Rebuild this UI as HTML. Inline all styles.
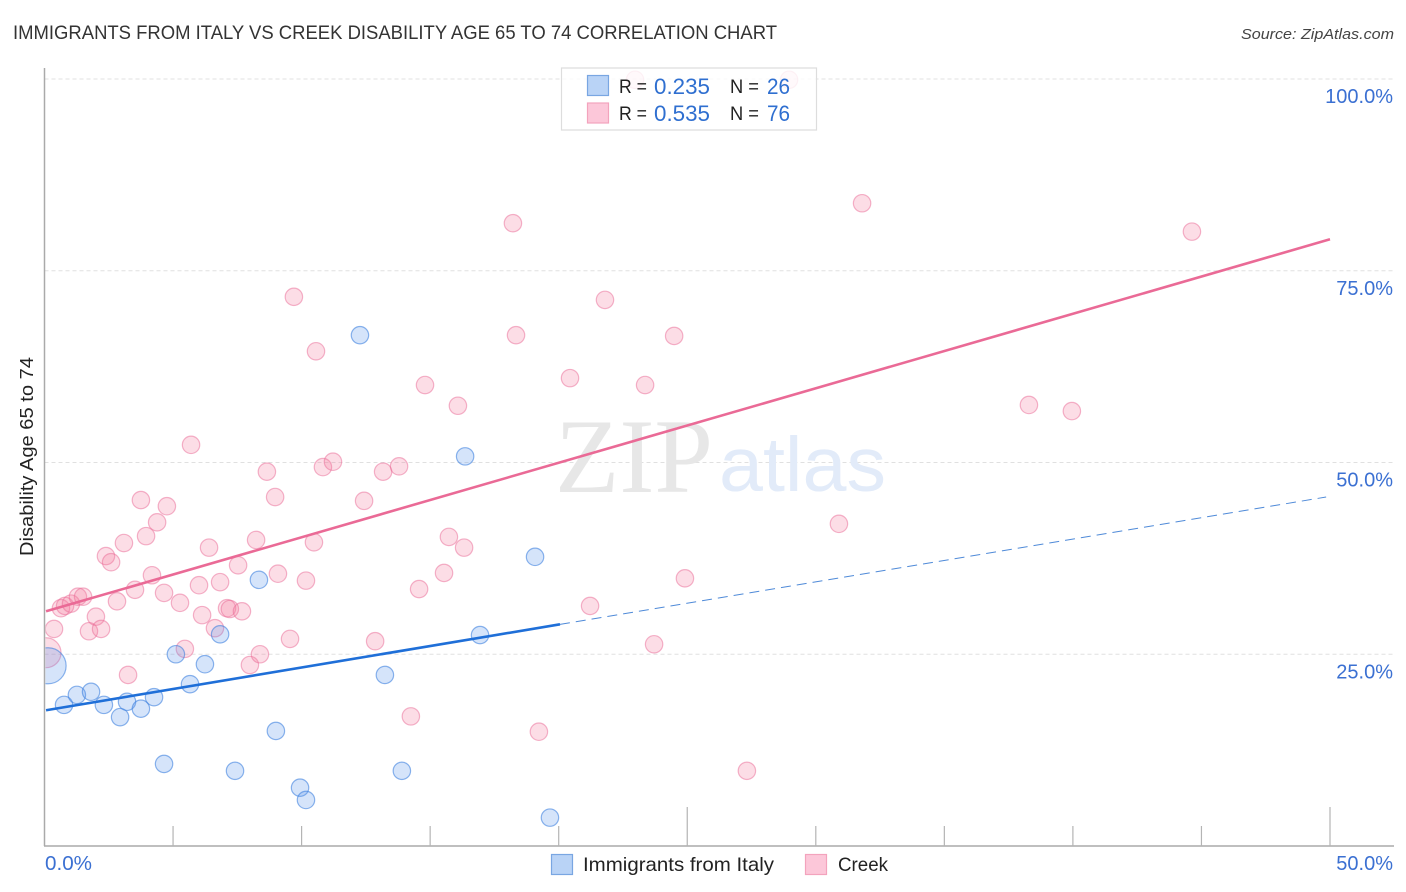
<!DOCTYPE html>
<html lang="en">
<head>
<meta charset="utf-8">
<title>Immigrants from Italy vs Creek Disability Age 65 to 74 Correlation Chart</title>
<style>
html,body{margin:0;padding:0;background:#fff;}
svg{display:block;font-family:"Liberation Sans",sans-serif;}
</style>
</head>
<body>
<svg id="chart" xmlns="http://www.w3.org/2000/svg" width="1406" height="892" viewBox="0 0 1406 892">
  <defs><clipPath id="plot-clip"><rect x="45.5" y="60" width="1350" height="786"></rect></clipPath></defs>
  <rect x="0" y="0" width="1406" height="892" fill="#fff"></rect>
  <text x="13" y="39" font-size="19" fill="#333" textLength="764" lengthAdjust="spacingAndGlyphs">IMMIGRANTS FROM ITALY VS CREEK DISABILITY AGE 65 TO 74 CORRELATION CHART</text>
  <text x="1394" y="39" font-size="15" font-style="italic" fill="#444" text-anchor="end" textLength="153" lengthAdjust="spacingAndGlyphs">Source: ZipAtlas.com</text>
  <g id="grid"></g>
  <g>
    <text x="555" y="492" font-family="'Liberation Serif',serif" font-size="106" fill="#e7e7e7" textLength="158" lengthAdjust="spacingAndGlyphs">ZIP</text>
    <text x="719" y="491" font-size="77" fill="#e2ebf9" textLength="167" lengthAdjust="spacingAndGlyphs">atlas</text>
  </g>
  <g id="points" clip-path="url(#plot-clip)"></g>
  <g id="trends"></g>
  <g id="axes"></g>
  <text transform="translate(33,456.5) rotate(-90)" font-size="18.5" fill="#222" text-anchor="middle" textLength="199" lengthAdjust="spacingAndGlyphs">Disability Age 65 to 74</text>

  <g>
    <rect x="561.5" y="68" width="255" height="62" fill="#fff" fill-opacity="0.82" stroke="#ddd" stroke-width="1.2"></rect>
    <rect x="587.5" y="75.5" width="21" height="20" fill="#b9d3f6" stroke="#79a6e2" stroke-width="1.2"></rect>
    <rect x="587.5" y="103" width="21" height="20" fill="#fcc7d9" stroke="#f3a3bd" stroke-width="1.2"></rect>
    <g font-size="19" fill="#222">
      <text x="619" y="93" textLength="28" lengthAdjust="spacingAndGlyphs">R =</text>
      <text x="654" y="94" font-size="22" fill="#2f6fd0" textLength="56" lengthAdjust="spacingAndGlyphs">0.235</text>
      <text x="730" y="93" textLength="29" lengthAdjust="spacingAndGlyphs">N =</text>
      <text x="767" y="94" font-size="22" fill="#2f6fd0" textLength="23" lengthAdjust="spacingAndGlyphs">26</text>
      <text x="619" y="120" textLength="28" lengthAdjust="spacingAndGlyphs">R =</text>
      <text x="654" y="121" font-size="22" fill="#2f6fd0" textLength="56" lengthAdjust="spacingAndGlyphs">0.535</text>
      <text x="730" y="120" textLength="29" lengthAdjust="spacingAndGlyphs">N =</text>
      <text x="767" y="121" font-size="22" fill="#2f6fd0" textLength="23" lengthAdjust="spacingAndGlyphs">76</text>
    </g>
  </g>

  <g>
    <g>
      <rect x="551.5" y="854.5" width="21" height="20" fill="#b9d3f6" stroke="#79a6e2" stroke-width="1.2"></rect>
      <text x="583" y="871" font-size="19.5" fill="#222" textLength="191" lengthAdjust="spacingAndGlyphs">Immigrants from Italy</text>
    </g>
    <g>
      <rect x="805.5" y="854.5" width="21" height="20" fill="#fcc7d9" stroke="#f3a3bd" stroke-width="1.2"></rect>
      <text x="838" y="871" font-size="19.5" fill="#222" textLength="50" lengthAdjust="spacingAndGlyphs">Creek</text>
    </g>
  </g>
</svg>
<script>
// Chart data, in axis units (percent)
const italyX = [0.14,0.76,1.26,1.81,2.31,2.94,3.21,3.75,4.26,4.65,5.11,5.66,6.24,6.83,7.41,8.34,9.0,9.94,10.17,12.27,13.24,13.9,16.36,16.94,19.08,19.66];
const italyY = [23.5,18.4,19.7,20.1,18.4,16.8,18.8,17.9,19.4,10.7,25.0,21.1,23.7,27.6,9.8,34.7,15.0,7.6,6.0,66.6,22.3,9.8,50.8,27.5,37.7,3.7];
const creekX = [0.06,0.37,0.64,0.80,1.03,1.30,1.50,1.73,2.0,2.2,2.39,2.59,2.82,3.09,3.25,3.52,3.75,3.95,4.18,4.38,4.65,4.76,5.27,5.46,5.70,6.01,6.13,6.40,6.63,6.83,7.10,7.21,7.53,7.68,7.99,8.23,8.38,8.65,8.97,9.08,9.55,9.70,10.17,10.48,10.56,10.83,11.22,12.43,12.86,13.17,13.79,14.25,14.57,14.80,15.54,15.73,16.08,16.32,18.22,18.34,19.23,20.44,21.22,21.80,22.97,23.36,23.71,24.49,24.91,27.32,28.96,30.90,31.80,38.29,39.96,44.63];
const creekY = [25.2,28.3,31.0,31.3,31.6,32.5,32.5,28.0,29.9,28.3,37.8,37.0,31.9,39.5,22.3,33.4,45.1,40.4,35.3,42.2,33.0,44.3,31.7,25.7,52.3,34.0,30.1,38.9,28.4,34.4,31.0,30.9,36.6,30.6,23.6,39.9,25.0,48.8,45.5,35.5,27.0,71.6,34.6,39.6,64.5,49.4,50.1,45.0,26.7,48.8,49.5,16.9,33.5,60.1,35.6,40.3,57.4,38.9,81.2,66.6,14.9,61.0,31.3,71.2,99.9,60.1,26.3,66.5,34.9,9.8,99.9,42.0,83.8,57.5,56.7,80.1];
const italyWeights = [2.07,1,1,1,1,1,1,1,1,1,1,1,1,1,1,1,1,1,1,1,1,1,1,1,1,1];
const creekWeights = [1.72,1,1,1,1,1,1,1,1,1,1,1,1,1,1,1,1,1,1,1,1,1,1,1,1,1,1,1,1,1,1,1,1,1,1,1,1,1,1,1,1,1,1,1,1,1,1,1,1,1,1,1,1,1,1,1,1,1,1,1,1,1,1,1,1,1,1,1,1,1,1,1,1,1,1,1];
const creekTrendX = [0.06,50];
const creekTrendY = [30.6,79.1];
const italyTrendX = [0.06,20.05];
const italyTrendY = [17.7,28.9];
const italyProjectionX = [20.05,49.85];
const italyProjectionY = [28.9,45.5];
const yTicks = [25,50,75,100];
const yTickLabels = ['25.0%','50.0%','75.0%','100.0%'];
const xTicks = [5,10,15,20,25,30,35,40,45,50];
const xMajorTicks = [25,50];
const xEndTickLabels = ['0.0%','50.0%'];

const NS = 'http://www.w3.org/2000/svg';
const BASE_RADIUS = 8.7;
const xScale = v => 44.5 + v * 25.71;
const yScale = v => 846 - v * 7.67;

function mk(tag, attrs, parent, text) {
  const el = document.createElementNS(NS, tag);
  for (const k in attrs) el.setAttribute(k, attrs[k]);
  if (text !== undefined) el.textContent = text;
  parent.appendChild(el);
  return el;
}

const grid = document.getElementById('grid');
yTicks.forEach(function (t) {
  const g = mk('line', {x1: 44.5, x2: 1393, y1: yScale(t), y2: yScale(t), stroke: '#e0e0e0', 'stroke-width': 1, 'stroke-dasharray': '4 3'}, grid);
  
  
});

const axes = document.getElementById('axes');
const yAxis = mk('line', {x1: 44.5, x2: 44.5, y1: 68, y2: 846, stroke: '#aaa', 'stroke-width': 1.5}, axes);


const xAxis = mk('line', {x1: 44, x2: 1394, y1: 846, y2: 846, stroke: '#aaa', 'stroke-width': 1.5}, axes);


xTicks.forEach(function (t) {
  const top = xMajorTicks.includes(t) ? 807 : 826;
  const tick = mk('line', {x1: xScale(t), x2: xScale(t), y1: top, y2: 846, stroke: '#b4b4b4', 'stroke-width': 1.2}, axes);
  
  
});
yTicks.forEach(function (t, i) {
  const label = mk('text', {x: 1393, y: yScale(t) + 24, 'font-size': 20, fill: '#3b70d2', 'text-anchor': 'end'}, axes, yTickLabels[i]);
  
  
});
const xStart = mk('text', {x: 45, y: 870, 'font-size': 20, fill: '#3b70d2', textLength: 47, lengthAdjust: 'spacingAndGlyphs'}, axes, xEndTickLabels[0]);


const xEnd = mk('text', {x: 1393, y: 870, 'font-size': 20, fill: '#3b70d2', 'text-anchor': 'end'}, axes, xEndTickLabels[1]);



const points = document.getElementById('points');
creekX.forEach(function (x, i) {
  const c = mk('circle', {cx: xScale(x), cy: yScale(creekY[i]), r: BASE_RADIUS * creekWeights[i], fill: '#f27a9f', 'fill-opacity': 0.26, stroke: '#ea6a96', 'stroke-opacity': 0.5, 'stroke-width': 1.2}, points);
  
  
});
italyX.forEach(function (x, i) {
  const c = mk('circle', {cx: xScale(x), cy: yScale(italyY[i]), r: BASE_RADIUS * italyWeights[i], fill: '#5b97ea', 'fill-opacity': 0.26, stroke: '#3f82e0', 'stroke-opacity': 0.6, 'stroke-width': 1.2}, points);
  
  
});

const trends = document.getElementById('trends');
const creekLine = mk('line', {x1: xScale(creekTrendX[0]), y1: yScale(creekTrendY[0]), x2: xScale(creekTrendX[1]), y2: yScale(creekTrendY[1]), stroke: '#ea6a96', 'stroke-width': 2.6}, trends);


const italyLine = mk('line', {x1: xScale(italyTrendX[0]), y1: yScale(italyTrendY[0]), x2: xScale(italyTrendX[1]), y2: yScale(italyTrendY[1]), stroke: '#1f6fd8', 'stroke-width': 2.6}, trends);


const italyProj = mk('line', {x1: xScale(italyProjectionX[0]), y1: yScale(italyProjectionY[0]), x2: xScale(italyProjectionX[1]), y2: yScale(italyProjectionY[1]), stroke: '#4f8ad8', 'stroke-width': 1, 'stroke-dasharray': '10 6'}, trends);


</script>
</body>
</html>
